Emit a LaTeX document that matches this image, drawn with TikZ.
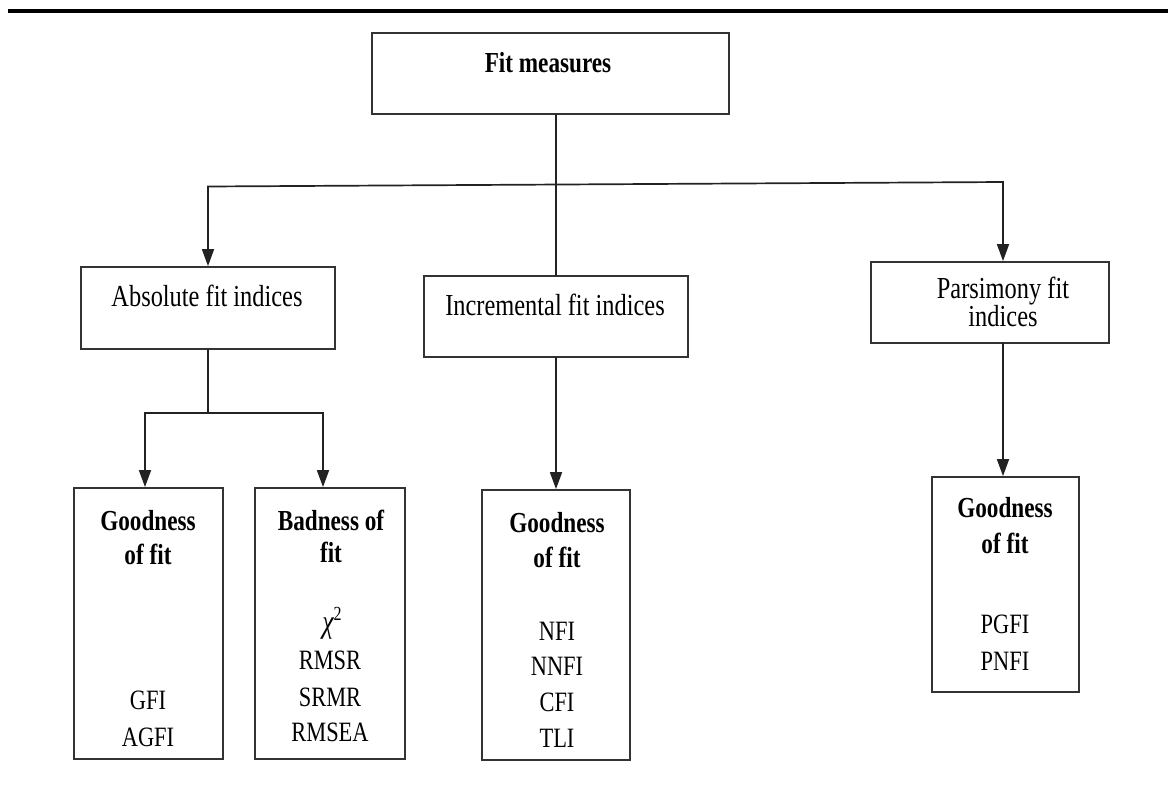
\documentclass[tikz,border=0pt]{standalone}
\usepackage{fontspec}
\setmainfont[FakeStretch=0.8]{Liberation Serif}
\usetikzlibrary{arrows.meta}
\definecolor{boxgray}{HTML}{333333}
\definecolor{linegray}{HTML}{222222}
\begin{document}
\begin{tikzpicture}[x=1pt,y=-1pt,
  box/.style 2 args={draw=boxgray, line width=1.8pt, inner sep=0pt,
    minimum width=#1pt, minimum height=#2pt},
  link/.style={draw=linegray, line width=1.7pt, line cap=rect},
  arr/.style={link, -{Triangle[length=17pt,width=12pt]}},
  hd/.style={font=\fontsize{30.5}{34}\selectfont, anchor=base, inner sep=0pt},
  bd/.style={font=\fontsize{29}{34}\selectfont\bfseries, anchor=base, inner sep=0pt},
  item/.style={font=\fontsize{28}{34}\selectfont, anchor=base, inner sep=0pt}]
\useasboundingbox (0,0) rectangle (1168,785);

% heavy rule along the top
\draw[line width=4pt] (8,11) -- (1168,11);

% root
\node[box={357}{81}] (fit) at (550.5,73.5) {};
\node[bd] (fitT) at (548,72) {Fit measures};

% three families of indices
\node[box={254}{82}] (abs) at (208,308) {};
\node[hd] (absT) at (207,306) {Absolute fit indices};

\node[box={264}{81}] (inc) at (556,316.5) {};
\node[hd] (incT) at (555,315) {Incremental fit indices};

\node[box={238}{81}] (par) at (990,302.5) {};
\node[hd] (parT1) at (1003,298) {Parsimony fit};
\node[hd] (parT2) at (1003,326) {indices};

% absolute: goodness of fit
\node[box={149}{271}] (gA) at (148.5,623.5) {};
\node[bd] (gAT1) at (148,530) {Goodness};
\node[bd] (gAT2) at (148,564) {of fit};
\node[item] (gA1) at (148,709) {GFI};
\node[item] (gA2) at (148,746) {AGFI};

% absolute: badness of fit
\node[box={150}{271}] (bad) at (330,623.5) {};
\node[bd] (badT1) at (331,530) {Badness of};
\node[bd] (badT2) at (331,562) {fit};
\node[anchor=base, inner sep=0pt] (chi) at (332,632)
  {\fontsize{32}{34}\selectfont\itshape χ\raisebox{12pt}{\upshape\fontsize{20}{20}\selectfont 2}};
\node[item] (bad1) at (330,669) {RMSR};
\node[item] (bad2) at (330,706) {SRMR};
\node[item] (bad3) at (330,741) {RMSEA};

% incremental: goodness of fit
\node[box={148}{270}] (gC) at (556,625) {};
\node[bd] (gCT1) at (557,532) {Goodness};
\node[bd] (gCT2) at (557,567) {of fit};
\node[item] (gC1) at (557,640) {NFI};
\node[item] (gC2) at (557,675) {NNFI};
\node[item] (gC3) at (557,711) {CFI};
\node[item] (gC4) at (557,747) {TLI};

% parsimony: goodness of fit
\node[box={147}{215}] (gD) at (1005.5,584.5) {};
\node[bd] (gDT1) at (1005,517) {Goodness};
\node[bd] (gDT2) at (1005,553) {of fit};
\node[item] (gD1) at (1005,633) {PGFI};
\node[item] (gD2) at (1005,670) {PNFI};

% connectors
\coordinate (jL) at (208,186.5);
\coordinate (jR) at (1003,182);
\coordinate (kL) at (145,413);
\coordinate (kR) at (323,413);

\draw[link] (inc.north |- fit.south) -- (inc.north);
\draw[link] (jL) -- (jR);
\draw[arr] (jL) -- (abs.north);
\draw[arr] (jR) -- (jR |- par.north);

\draw[link] (abs.south) -- (abs.south |- kL);
\draw[link] (kL) -- (kR);
\draw[arr] (kL) -- (kL |- gA.north);
\draw[arr] (kR) -- (kR |- bad.north);

\draw[arr] (inc.south) -- (gC.north);
\draw[arr] (jR |- par.south) -- (jR |- gD.north);
\end{tikzpicture}
\end{document}
